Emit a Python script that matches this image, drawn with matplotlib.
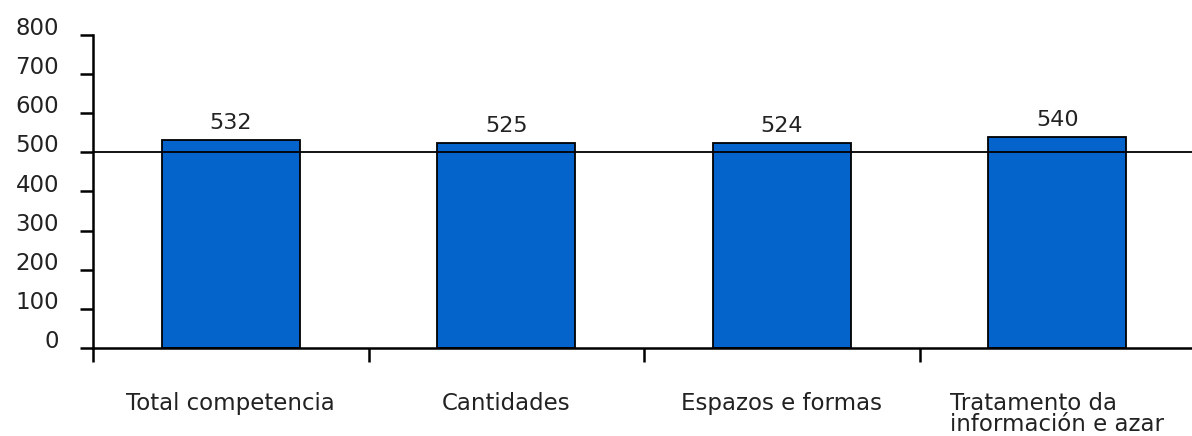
import matplotlib
matplotlib.use('Agg')
import matplotlib.pyplot as plt
import numpy as np

categories = ['Total competencia', 'Cantidades', 'Espazos e formas',
              'Tratamento da\ninformación e azar']
scores = [532, 525, 524, 540]
reference = 500
yticks = [0, 100, 200, 300, 400, 500, 600, 700, 800]

plt.rcParams['font.family'] = 'DejaVu Sans'

fig = plt.figure(figsize=(11.92, 4.36), dpi=100)
ax = fig.add_axes([93 / 1192, 88 / 436, 1102 / 1192, 313 / 436])

x = np.arange(len(categories))
ax.bar(x, scores, width=0.5, color='#0564CC', edgecolor='black', linewidth=1.3, zorder=2)
ax.axhline(reference, color='black', linewidth=1.3, zorder=3)

for xi, v in zip(x, scores):
    ax.text(xi, v + 18, str(v), ha='center', va='bottom', fontsize=16, color='#222222')

ax.set_xlim(-0.5, len(categories) - 0.5)
ax.set_ylim(0, 800)
ax.set_yticks(yticks)
ax.set_yticklabels([str(t) for t in yticks], va='baseline')

ax.set_xticks(x)
ax.set_xticklabels(categories, fontsize=16.5, color='#222222', linespacing=0.88,
                   multialignment='left', va='top')
ax.set_xticks(np.arange(len(categories) + 1) - 0.5, minor=True)
ax.tick_params(axis='x', which='major', length=0, pad=32)
ax.tick_params(axis='x', which='minor', length=10, width=1.8, direction='out')
ax.tick_params(axis='y', length=9.5, width=1.8, pad=15, labelsize=16.5, labelcolor='#222222')

for side in ['top', 'right']:
    ax.spines[side].set_visible(False)
for side in ['left', 'bottom']:
    ax.spines[side].set_linewidth(1.8)

fig.savefig('out.png', dpi=100)
